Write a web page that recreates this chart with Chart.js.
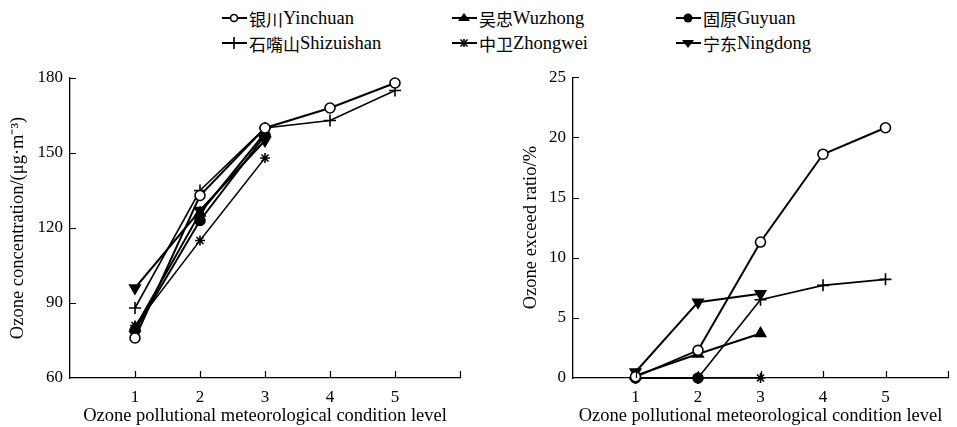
<!DOCTYPE html>
<html>
<head>
<meta charset="utf-8">
<script src="https://cdn.jsdelivr.net/npm/chart.js@4.4.1/dist/chart.umd.min.js"></script>
<style>
  html,body{margin:0;padding:0;background:#fff;width:957px;height:427px;overflow:hidden;}
  #wrap{position:relative;width:957px;height:427px;}
  .cv{position:absolute;}
  #legend{position:absolute;left:0;top:0;width:957px;height:60px;color:#000;}
  .li{position:absolute;display:flex;align-items:center;white-space:nowrap;height:22px;font-size:18px;}
  .li svg{margin-right:2px;}
  .zh{font-family:"Noto Sans CJK SC",sans-serif;font-size:17px;}
  .en{font-family:"Liberation Serif",serif;font-size:18.5px;}
</style>
</head>
<body>
<div id="wrap">
  <div id="legend"></div>
  <canvas id="c1" class="cv" style="left:0;top:60px;width:470px;height:367px" width="470" height="367"></canvas>
  <canvas id="c2" class="cv" style="left:470px;top:60px;width:487px;height:367px" width="487" height="367"></canvas>
</div>
<script>
// ---- data ----
const levels = [1, 2, 3, 4, 5];
const seriesZh = ['银川', '吴忠', '固原', '石嘴山', '中卫', '宁东'];
const seriesEn = ['Yinchuan', 'Wuzhong', 'Guyuan', 'Shizuishan', 'Zhongwei', 'Ningdong'];

const concYinchuan   = [76, 133, 160, 168, 178];
const concWuzhong    = [80, 126, 158];
const concGuyuan     = [79, 123, 157];
const concShizuishan = [88, 135, 160, 163, 175];
const concZhongwei   = [81, 115, 148];
const concNingdong   = [96, 127, 155];

const ratioYinchuan   = [0.1, 2.3, 11.3, 18.6, 20.8];
const ratioWuzhong    = [0.2, 2.0, 3.7];
const ratioGuyuan     = [0, 0];
const ratioShizuishan = [0, 0, 6.5, 7.7, 8.2];
const ratioZhongwei   = [0, 0, 0];
const ratioNingdong   = [0.5, 6.3, 7.0];

const xTickLabels = ['1', '2', '3', '4', '5'];
const concTicks = [60, 90, 120, 150, 180];
const ratioTicks = [0, 5, 10, 15, 20, 25];

// ---- styles ----
const styles = [
  {pointStyle:'circle',   radius:5, bg:'#fff', lw:2,   rot:0},   // Yinchuan
  {pointStyle:'triangle', radius:6, bg:'#000', lw:2,   rot:0},   // Wuzhong
  {pointStyle:'circle',   radius:5, bg:'#000', lw:2,   rot:0},   // Guyuan
  {pointStyle:'cross',    radius:6, bg:'#000', lw:1.6, rot:0},   // Shizuishan
  {pointStyle:'star',     radius:5, bg:'#000', lw:1.4, rot:0},   // Zhongwei
  {pointStyle:'triangle', radius:6, bg:'#000', lw:2,   rot:180}  // Ningdong
];

function toXY(arr){ return arr.map((v,i)=>({x:levels[i], y:v})); }

function makeDatasets(arrs){
  return arrs.map((arr,i)=>({
    label: seriesZh[i] + seriesEn[i],
    data: toXY(arr),
    borderColor:'#000',
    backgroundColor: styles[i].bg,
    borderWidth: styles[i].lw,
    pointStyle: styles[i].pointStyle,
    pointRadius: styles[i].radius,
    pointHoverRadius: styles[i].radius,
    pointRotation: styles[i].rot,
    pointBorderColor:'#000',
    pointBackgroundColor: styles[i].bg,
    pointBorderWidth: 1.6,
    tension:0,
    clip:false
  }));
}

const FONT = {family:"'Liberation Serif', 'Times New Roman', serif", size:17};

const inwardTicks = {
  id:'inwardTicks',
  afterDraw(chart, args, opts){
    const {ctx, chartArea:{left,bottom}, scales:{x,y}} = chart;
    ctx.save();
    ctx.strokeStyle='#000'; ctx.lineWidth=1.2;
    ctx.beginPath();
    for (const v of opts.xTicks){ const px=Math.round(x.getPixelForValue(v))+0.5; ctx.moveTo(px,bottom); ctx.lineTo(px,bottom-7); }
    for (const v of opts.yTicks){ const py=Math.round(y.getPixelForValue(v))+0.5; ctx.moveTo(left,py); ctx.lineTo(left+6,py); }
    ctx.stroke();
    ctx.restore();
  }
};

function makeChart(id, arrs, yMin, yMax, yStep, yTitle, yWidth, padLeft, padRight, padTop, yTickMarks){
  return new Chart(document.getElementById(id), {
    type:'line',
    data:{datasets: makeDatasets(arrs)},
    options:{
      responsive:false, animation:false, devicePixelRatio:1,
      layout:{padding:{left:padLeft, right:padRight, top:padTop, bottom:0}},
      plugins:{legend:{display:false}, tooltip:{enabled:false}, inwardTicks:{xTicks:[1,2,3,4,5,6], yTicks:yTickMarks}},
      scales:{
        x:{
          type:'linear', min:0, max:6,
          grid:{display:false, drawTicks:false},
          border:{display:true, color:'#000', width:1.3},
          ticks:{stepSize:1, padding:9, color:'#000', font:FONT,
            callback:(v)=> (v>=1 && v<=5) ? xTickLabels[v-1] : ''},
          title:{display:true, text:'Ozone pollutional meteorological condition level', color:'#000',
            font:{family:FONT.family, size:18.5}, padding:{top:2,bottom:0}},
          afterFit:(s)=>{ s.height = 49; }
        },
        y:{
          min:yMin, max:yMax,
          grid:{display:false, drawTicks:false},
          border:{display:true, color:'#000', width:1.3},
          ticks:{stepSize:yStep, padding:7, color:'#000', font:FONT},
          title:{display:true, text:yTitle, color:'#000', font:{family:FONT.family, size:18.5}, padding:{top:7,bottom:0}},
          afterFit:(s)=>{ s.width = yWidth; }
        }
      }
    },
    plugins:[inwardTicks]
  });
}

makeChart('c1', [concYinchuan, concWuzhong, concGuyuan, concShizuishan, concZhongwei, concNingdong],
  concTicks[0], concTicks[concTicks.length-1], 30, 'Ozone concentration/(μg·m⁻³)', 70, 0, 10, 18, [90,120,150,180]);
makeChart('c2', [ratioYinchuan, ratioWuzhong, ratioGuyuan, ratioShizuishan, ratioZhongwei, ratioNingdong],
  ratioTicks[0], ratioTicks[ratioTicks.length-1], 5, 'Ozone exceed ratio/%', 60, 43, 4, 16, [5,10,15,20,25]);

// ---- HTML legend ----
const legendPos = [[222,7],[452,7],[676,7],[222,32],[452,32],[676,32]];
const legend = document.getElementById('legend');
function iconSVG(i){
  const s = styles[i];
  let m = '';
  const cx=12, cy=11;
  if (s.pointStyle==='circle' && s.bg==='#fff') m = `<circle cx="${cx}" cy="${cy}" r="3.5" fill="#fff" stroke="#000" stroke-width="1.6"/>`;
  else if (s.pointStyle==='circle') m = `<circle cx="${cx}" cy="${cy}" r="4.5" fill="#000"/>`;
  else if (s.pointStyle==='triangle' && s.rot===0) m = `<polygon points="${cx},${cy-5} ${cx+6},${cy+3} ${cx-6},${cy+3}" fill="#000"/>`;
  else if (s.pointStyle==='triangle') m = `<polygon points="${cx},${cy+5} ${cx+6},${cy-3} ${cx-6},${cy-3}" fill="#000"/>`;
  else if (s.pointStyle==='cross') m = `<line x1="${cx}" y1="${cy-6}" x2="${cx}" y2="${cy+6}" stroke="#000" stroke-width="1.6"/>`;
  else if (s.pointStyle==='star') m = `<g stroke="#000" stroke-width="1.6"><line x1="${cx}" y1="${cy-4}" x2="${cx}" y2="${cy+4}"/><line x1="${cx-3.5}" y1="${cy-3.5}" x2="${cx+3.5}" y2="${cy+3.5}"/><line x1="${cx+3.5}" y1="${cy-3.5}" x2="${cx-3.5}" y2="${cy+3.5}"/></g>`;
  return `<svg width="25" height="22" viewBox="0 0 25 22"><line x1="0" y1="${cy}" x2="25" y2="${cy}" stroke="#000" stroke-width="2"/>${m}</svg>`;
}
seriesZh.forEach((zh,i)=>{
  const d = document.createElement('div');
  d.className='li';
  d.style.left = legendPos[i][0]+'px';
  d.style.top = legendPos[i][1]+'px';
  const a = document.createElement('span'); a.className='zh'; a.textContent = zh;
  const b = document.createElement('span'); b.className='en'; b.textContent = seriesEn[i];
  d.innerHTML = iconSVG(i);
  d.appendChild(a); d.appendChild(b);
  legend.appendChild(d);
});
</script>
</body>
</html>
